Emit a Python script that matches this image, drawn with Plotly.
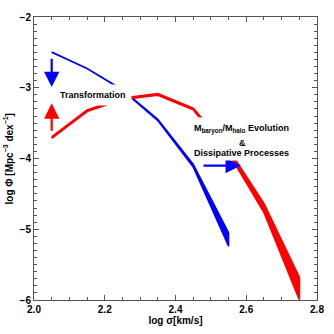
import plotly.graph_objects as go

# Data
log_sigma_blue = [2.05, 2.15, 2.25, 2.35, 2.45, 2.55]
blue_upper = [-2.495, -2.725, -3.025, -3.445, -4.08, -5.05]
blue_lower = [-2.50, -2.73, -3.035, -3.465, -4.12, -5.24]

log_sigma_red = [2.05, 2.15, 2.25, 2.35, 2.45, 2.55, 2.65, 2.75]
red_upper = [-3.695, -3.315, -3.145, -3.085, -3.29, -3.87, -4.64, -5.68]
red_lower = [-3.715, -3.335, -3.165, -3.105, -3.31, -3.92, -4.76, -5.99]

x_ticks = [2.0, 2.2, 2.4, 2.6, 2.8]
y_ticks = [-2, -3, -4, -5, -6]

BLUE = "#0000ff"
RED = "#ff0000"
FONT = "Liberation Sans"

fig = go.Figure()

def band(xs, up, lo, color, w):
    fig.add_trace(go.Scatter(
        x=xs + xs[::-1], y=up + lo[::-1], mode="lines", fill="toself",
        fillcolor=color, line=dict(color=color, width=w), hoverinfo="skip",
        showlegend=False))

band(log_sigma_blue, blue_upper, blue_lower, BLUE, 1.5)
band(log_sigma_red, red_upper, red_lower, RED, 1.8)

# arrows
arrows = [
    # (tip_x, tip_y, tail_x, tail_y, color)
    (2.05, -2.99, 2.05, -2.57, BLUE),
    (2.05, -3.22, 2.05, -3.63, RED),
    (2.585, -4.10, 2.475, -4.10, BLUE),
]
for tx, ty, sx, sy, c in arrows:
    fig.add_annotation(x=tx, y=ty, ax=sx, ay=sy, xref="x", yref="y",
                       axref="x", ayref="y", text="", showarrow=True,
                       arrowhead=2, arrowsize=1.4, arrowwidth=2.2, arrowcolor=c)

tfont = dict(family=FONT, size=9, color="black", weight="bold")
fig.add_annotation(x=2.166, y=-3.10, xref="x", yref="y", text="Transformation",
                   showarrow=False, bgcolor="white", borderpad=5, font=tfont)

# white backing box for the evolution label
fig.add_annotation(x=2.591, y=-3.725, xref="x", yref="y", text=" ",
                   showarrow=False, bgcolor="white", width=100, height=42, borderpad=0,
                   font=tfont)
fig.add_annotation(x=2.586, y=-3.585, xref="x", yref="y",
                   text="M<sub>baryon</sub>/M<sub>halo</sub> Evolution",
                   showarrow=False, font=tfont)
fig.add_annotation(x=2.588, y=-3.781, xref="x", yref="y", text="&",
                   showarrow=False, font=tfont)
fig.add_annotation(x=2.586, y=-3.922, xref="x", yref="y", text="Dissipative Processes",
                   showarrow=False, font=tfont)

# y axis title
fig.add_annotation(x=-0.092, y=0.5, xref="paper", yref="paper",
                   text="log Φ [Mpc<sup>−3</sup> dex<sup>−1</sup>]", textangle=-90,
                   showarrow=False, xanchor="center", yanchor="middle",
                   font=dict(family=FONT, size=10, color="black", weight="bold"))

axis_common = dict(
    showgrid=False, zeroline=False, showline=True, linecolor="#555555", linewidth=1,
    mirror="allticks", ticks="inside", ticklen=5, tickcolor="#555555", automargin=False,
    tickfont=dict(family=FONT, size=10, color="black", weight="bold"),
)
fig.update_xaxes(range=[2.0, 2.8], tickvals=x_ticks, ticktext=[f"{v:.1f}" for v in x_ticks],
                 minor=dict(dtick=0.05, tick0=2.0, ticks="inside", ticklen=3, tickcolor="#555555"),
                 title=dict(text="log σ[km/s]", standoff=0,
                            font=dict(family=FONT, size=10, color="black", weight="bold")),
                 **axis_common)
fig.update_yaxes(range=[-6, -2], tickvals=y_ticks,
                 minor=dict(dtick=0.1, tick0=-6, ticks="inside", ticklen=3, tickcolor="#555555"),
                 **axis_common)

fig.update_layout(width=334, height=334, margin=dict(l=34, r=17, t=17, b=34, autoexpand=False),
                  plot_bgcolor="white", paper_bgcolor="white", showlegend=False)

fig.write_html("out.html", config={"displayModeBar": False},
               post_script="document.body.style.margin='0px';")
